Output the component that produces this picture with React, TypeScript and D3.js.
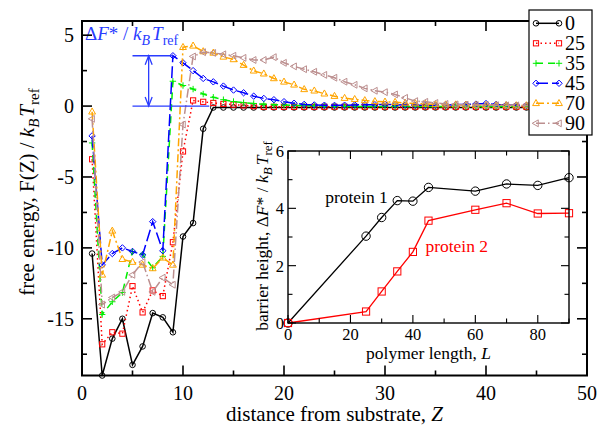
import React from 'react';
import * as d3 from 'd3';

const FONT = 'Liberation Serif, DejaVu Serif, serif';

// distance from substrate, Z
const zValues = [
  1, 2, 3, 4, 5, 6, 7, 8, 9, 10,
  11, 12, 13, 14, 15, 16, 17, 18, 19, 20,
  21, 22, 23, 24, 25, 26, 27, 28, 29, 30,
  31, 32, 33, 34, 35, 36, 37, 38, 39, 40,
  41, 42, 43, 44, 45, 46, 47, 48, 49, 50,
];

// free energy F(Z)/kT for each polymer length
const f0 = [
  -10.4, -19.0, -16.4, -15.0, -18.25, -16.95, -14.6, -14.9, -15.95, -9.2,
  -8.25, -1.6, -0.1, -0.1, -0.1, -0.1, -0.1, -0.1, -0.1, -0.1,
  -0.1, -0.1, -0.1, -0.1, -0.1, -0.1, -0.1, -0.1, -0.1, -0.1,
  -0.1, -0.1, -0.1, -0.1, -0.1, -0.1, -0.1, -0.1, -0.1, -0.1,
  -0.1, -0.1, -0.1, -0.1, -0.1, -0.1, -0.1, -0.1, -0.1, -0.1,
];
const f25 = [
  -3.75, -16.8, -15.95, -16.05, -12.7, -14.55, -13.0, -13.4, -9.6, -3.2,
  0.4, 0.3, 0.22, 0.15, 0.1, 0.05, 0.0, -0.05, -0.05, -0.05,
  -0.05, -0.05, -0.05, -0.05, -0.05, -0.05, -0.05, -0.05, -0.05, -0.05,
  -0.05, -0.05, -0.05, -0.05, -0.05, -0.05, -0.05, -0.05, -0.05, -0.05,
  -0.05, -0.05, -0.05, -0.05, -0.05, -0.05, -0.05, -0.05, -0.05, -0.05,
];
const f35 = [
  -2.6, -14.7, -13.8, -13.15, -10.25, -10.45, -11.4, -10.6, 1.75, 1.45,
  1.2, 0.85, 0.62, 0.45, 0.32, 0.24, 0.18, 0.13, 0.1, 0.08,
  0.05, 0.03, 0.02, 0.0, -0.03, -0.03, -0.03, -0.03, -0.03, -0.03,
  -0.03, -0.03, -0.03, -0.03, -0.03, -0.03, -0.03, -0.03, -0.03, -0.03,
  -0.03, -0.03, -0.03, -0.03, -0.03, -0.03, -0.03, -0.03, -0.03, -0.03,
];
const f45 = [
  -2.1, -11.2, -10.4, -10.0, -10.25, -10.5, -8.15, -10.2, 3.55, 3.05,
  2.5, 1.95, 1.71, 1.41, 1.13, 0.94, 0.7, 0.54, 0.45, 0.31,
  0.2, 0.12, 0.08, 0.06, 0.05, 0.06, 0.08, 0.1, 0.1, 0.12,
  0.1, 0.08, 0.06, 0.05, 0.06, 0.08, 0.1, 0.12, 0.14, 0.18,
  0.12, 0.08, 0.06, 0.05, 0.04, 0.04, 0.03, 0.03, 0.02, 0.02,
];
const f70 = [
  -0.4, -11.9, -8.8, -10.8, -11.0, -11.2, -11.45, -10.7, -11.2, 4.15,
  4.25, 3.85, 3.75, 3.47, 3.29, 2.89, 2.49, 2.28, 1.95, 1.71,
  1.5, 1.18, 1.08, 0.87, 0.7, 0.56, 0.48, 0.4, 0.33, 0.3,
  0.28, 0.22, 0.18, 0.15, 0.12, 0.1, 0.1, 0.08, 0.07, 0.06,
  0.05, 0.05, 0.04, 0.04, 0.03, 0.03, 0.03, 0.02, 0.02, 0.02,
];
const f90 = [
  -0.9, -14.0, -13.5, -13.1, -11.9, -11.0, -13.1, -12.1, -12.6, -1.3,
  3.5, 3.8, 3.75, 3.65, 3.55, 3.4, 3.25, 3.25, 3.45, 3.05,
  2.8, 2.6, 2.42, 2.2, 2.0, 1.72, 1.5, 1.25, 1.08, 0.98,
  0.82, 0.58, 0.35, 0.3, 0.22, 0.15, 0.12, 0.1, 0.08, 0.07,
  0.06, 0.05, 0.05, 0.04, 0.04, 0.03, 0.03, 0.03, 0.02, 0.02,
];

const legendLabels = ['0', '25', '35', '45', '70', '90'];

// inset: barrier height vs polymer length
const polymerLength = [0, 25, 30, 35, 40, 45, 60, 70, 80, 90];
const protein1 = [0, 3.03, 3.68, 4.27, 4.25, 4.73, 4.6, 4.85, 4.8, 5.07];
const protein2 = [0, 0.4, 1.1, 1.8, 2.48, 3.57, 3.95, 4.18, 3.82, 3.83];

// barrier shown by the arrow (the 45 curve)
const barrierTop = 3.55;

const xTicks = [0, 10, 20, 30, 40, 50];
const xMinor = [5, 15, 25, 35, 45];
const yTicks = [-15, -10, -5, 0, 5];
const yMinor = [-17.5, -12.5, -7.5, -2.5, 2.5];
const inXTicks = [0, 20, 40, 60, 80];
const inXMinor = [10, 30, 50, 70, 90];
const inYTicks = [0, 2, 4, 6];
const inYMinor = [1, 3, 5];

const series = [
  { data: f0, color: '#000000', dash: 'none', shape: 'circle' },
  { data: f25, color: '#ff0000', dash: '1.5,3', shape: 'square' },
  { data: f35, color: '#00ee00', dash: '7,5', shape: 'plus' },
  { data: f45, color: '#0000ff', dash: '12,4', shape: 'diamond' },
  { data: f70, color: '#ffa500', dash: '8,3,2,3', shape: 'triUp' },
  { data: f90, color: '#bc8f8f', dash: '9,3,1.5,3', shape: 'triLeft' },
];

const Marker = ({ shape, cx, cy, s, color, w = 1 }) => {
  const common = { fill: 'none', stroke: color, strokeWidth: w };
  switch (shape) {
    case 'circle':
      return <circle cx={cx} cy={cy} r={s} {...common} />;
    case 'square':
      return <rect x={cx - s} y={cy - s} width={2 * s} height={2 * s} {...common} />;
    case 'plus':
      return <path d={`M${cx - s},${cy}H${cx + s}M${cx},${cy - s}V${cy + s}`} {...common} />;
    case 'diamond':
      return <path d={`M${cx},${cy - s}L${cx + s},${cy}L${cx},${cy + s}L${cx - s},${cy}Z`} {...common} />;
    case 'triUp':
      return <path d={`M${cx},${cy - s}L${cx + s * 0.9},${cy + s * 0.6}L${cx - s * 0.9},${cy + s * 0.6}Z`} {...common} />;
    case 'triLeft':
      return <path d={`M${cx - s},${cy}L${cx + s * 0.6},${cy - s * 0.9}L${cx + s * 0.6},${cy + s * 0.9}Z`} {...common} />;
    default:
      return null;
  }
};

const markerSize = { circle: 2.8, square: 2.6, plus: 3.2, diamond: 3.2, triUp: 3.8, triLeft: 3.8 };

// ticks on all four sides, pointing inward
const Frame = ({ xs, ys, xMaj, xMin, yMaj, yMin, major, minor, sw }) => {
  const [x0, x1] = xs.range();
  const [y0, y1] = ys.range();
  const t = [];
  xMaj.forEach((v) => {
    t.push(<line key={'xb' + v} x1={xs(v)} x2={xs(v)} y1={y0} y2={y0 - major} />);
    t.push(<line key={'xt' + v} x1={xs(v)} x2={xs(v)} y1={y1} y2={y1 + major} />);
  });
  xMin.forEach((v) => {
    t.push(<line key={'xbm' + v} x1={xs(v)} x2={xs(v)} y1={y0} y2={y0 - minor} />);
    t.push(<line key={'xtm' + v} x1={xs(v)} x2={xs(v)} y1={y1} y2={y1 + minor} />);
  });
  yMaj.forEach((v) => {
    t.push(<line key={'yl' + v} x1={x0} x2={x0 + major} y1={ys(v)} y2={ys(v)} />);
    t.push(<line key={'yr' + v} x1={x1} x2={x1 - major} y1={ys(v)} y2={ys(v)} />);
  });
  yMin.forEach((v) => {
    t.push(<line key={'ylm' + v} x1={x0} x2={x0 + minor} y1={ys(v)} y2={ys(v)} />);
    t.push(<line key={'yrm' + v} x1={x1} x2={x1 - minor} y1={ys(v)} y2={ys(v)} />);
  });
  return (
    <g stroke="#000" strokeWidth={sw * 0.8}>
      {t}
      <rect x={x0} y={y1} width={x1 - x0} height={y0 - y1} fill="none" strokeWidth={sw} />
    </g>
  );
};

export default function App() {
  const x = d3.scaleLinear().domain([0, 50]).range([82, 587]);
  const y = d3.scaleLinear().domain([-19, 6]).range([375.5, 21]);
  const xi = d3.scaleLinear().domain([0, 90]).range([288, 569]);
  const yi = d3.scaleLinear().domain([0, 6]).range([323, 151]);

  const mainLine = d3.line<number>().x((_, i) => x(zValues[i])).y((d) => y(d));
  const insetLine = d3.line<number>().x((_, i) => xi(polymerLength[i])).y((d) => yi(d));

  const blue = '#2a3cff';
  const arrowX = x(6.6);
  const yTop = y(barrierTop);
  const yZero = y(0);

  return (
    <svg width={607} height={428} style={{ position: 'absolute', left: 0, top: 0, background: '#fff', fontFamily: FONT }}>
      <g style={{ fontFamily: FONT }}>
        {/* main series */}
        {series.map((s, k) => (
          <g key={k}>
            <path d={mainLine(s.data)} fill="none" stroke={s.color} strokeWidth={1.5} strokeDasharray={s.dash} />
            {s.data.map((v, i) => (
              <Marker key={i} shape={s.shape} cx={x(zValues[i])} cy={y(v)} s={markerSize[s.shape]} color={s.color} />
            ))}
          </g>
        ))}

        {/* barrier annotation */}
        <g stroke={blue} strokeWidth={1.3} fill="none">
          <line x1={x(5)} x2={x(8.9)} y1={yTop} y2={yTop} />
          <line x1={x(5)} x2={x(12.6)} y1={yZero} y2={yZero} />
          <line x1={arrowX} x2={arrowX} y1={yTop} y2={yZero} />
          <path d={`M${arrowX - 3.5},${yTop + 9}L${arrowX},${yTop}L${arrowX + 3.5},${yTop + 9}`} />
          <path d={`M${arrowX - 3.5},${yZero - 9}L${arrowX},${yZero}L${arrowX + 3.5},${yZero - 9}`} />
        </g>
        <text x={85} y={40} fontSize={19} fill={blue}>
          Δ<tspan fontStyle="italic">F</tspan>* / <tspan fontStyle="italic">k</tspan>
          <tspan fontStyle="italic" fontSize={14} dy={5}>B</tspan>
          <tspan fontStyle="italic" dy={-5} dx={2}>T</tspan>
          <tspan fontSize={14} dy={5}>ref</tspan>
        </text>

        <Frame xs={x} ys={y} xMaj={xTicks} xMin={xMinor} yMaj={yTicks} yMin={yMinor} major={10} minor={5} sw={2} />

        {/* main tick labels */}
        {xTicks.map((v) => (
          <text key={v} x={x(v)} y={400} fontSize={20} textAnchor="middle">{v}</text>
        ))}
        {yTicks.map((v) => (
          <text key={v} x={74} y={y(v) + 7} fontSize={20} textAnchor="end">{v}</text>
        ))}
        <text x={x(25)} y={421} fontSize={21} textAnchor="middle">
          distance from substrate, <tspan fontStyle="italic">Z</tspan>
        </text>
        <text transform="translate(34,192) rotate(-90)" fontSize={21} textAnchor="middle">
          free energy, F(Z) / <tspan fontStyle="italic">k</tspan>
          <tspan fontStyle="italic" fontSize={15} dy={5}>B</tspan>
          <tspan fontStyle="italic" dy={-5} dx={2}>T</tspan>
          <tspan fontSize={15} dy={5}>ref</tspan>
        </text>

        {/* inset */}
        <rect x={288} y={151} width={281} height={172} fill="#fff" />
        <path d={insetLine(protein1)} fill="none" stroke="#000" strokeWidth={1.3} />
        <path d={insetLine(protein2)} fill="none" stroke="#ff0000" strokeWidth={1.3} />
        {protein1.map((v, i) => (
          <Marker key={'p1' + i} shape="circle" cx={xi(polymerLength[i])} cy={yi(v)} s={4.2} color="#000" />
        ))}
        {protein2.map((v, i) => (
          <Marker key={'p2' + i} shape="square" cx={xi(polymerLength[i])} cy={yi(v)} s={3.6} color="#ff0000" />
        ))}
        <Frame xs={xi} ys={yi} xMaj={inXTicks} xMin={inXMinor} yMaj={inYTicks} yMin={inYMinor} major={8} minor={4.5} sw={1.4} />
        {inXTicks.map((v) => (
          <text key={v} x={xi(v)} y={339.5} fontSize={16.5} textAnchor="middle">{v}</text>
        ))}
        {inYTicks.map((v) => (
          <text key={v} x={284} y={yi(v) + 6} fontSize={16.5} textAnchor="end">{v}</text>
        ))}
        <text x={xi(45)} y={359} fontSize={17.5} textAnchor="middle">
          polymer length, <tspan fontStyle="italic">L</tspan>
        </text>
        <text transform="translate(268,236) rotate(-90)" fontSize={17.5} textAnchor="middle">
          barrier height, Δ<tspan fontStyle="italic">F</tspan>* / <tspan fontStyle="italic">k</tspan>
          <tspan fontStyle="italic" fontSize={13} dy={4}>B</tspan>
          <tspan fontStyle="italic" dy={-4} dx={2}>T</tspan>
          <tspan fontSize={13} dy={4}>ref</tspan>
        </text>
        <text x={xi(11.9)} y={yi(4.19)} fontSize={17.5}>protein 1</text>
        <text x={xi(44)} y={yi(2.46)} fontSize={17.5} fill="#ff0000">protein 2</text>

        {/* legend */}
        <g>
          <rect x={529} y={10} width={63} height={125} fill="#fff" stroke="#000" strokeWidth={1.2} />
          {series.map((s, k) => {
            const cy = 23.3 + k * 20;
            return (
              <g key={k}>
                <line x1={536} x2={559} y1={cy} y2={cy} stroke={s.color} strokeWidth={1.5} strokeDasharray={s.dash} />
                <Marker shape={s.shape} cx={536} cy={cy} s={markerSize[s.shape]} color={s.color} />
                <Marker shape={s.shape} cx={559} cy={cy} s={markerSize[s.shape]} color={s.color} />
                <text x={565} y={cy + 7} fontSize={20}>{legendLabels[k]}</text>
              </g>
            );
          })}
        </g>
      </g>
    </svg>
  );
}
